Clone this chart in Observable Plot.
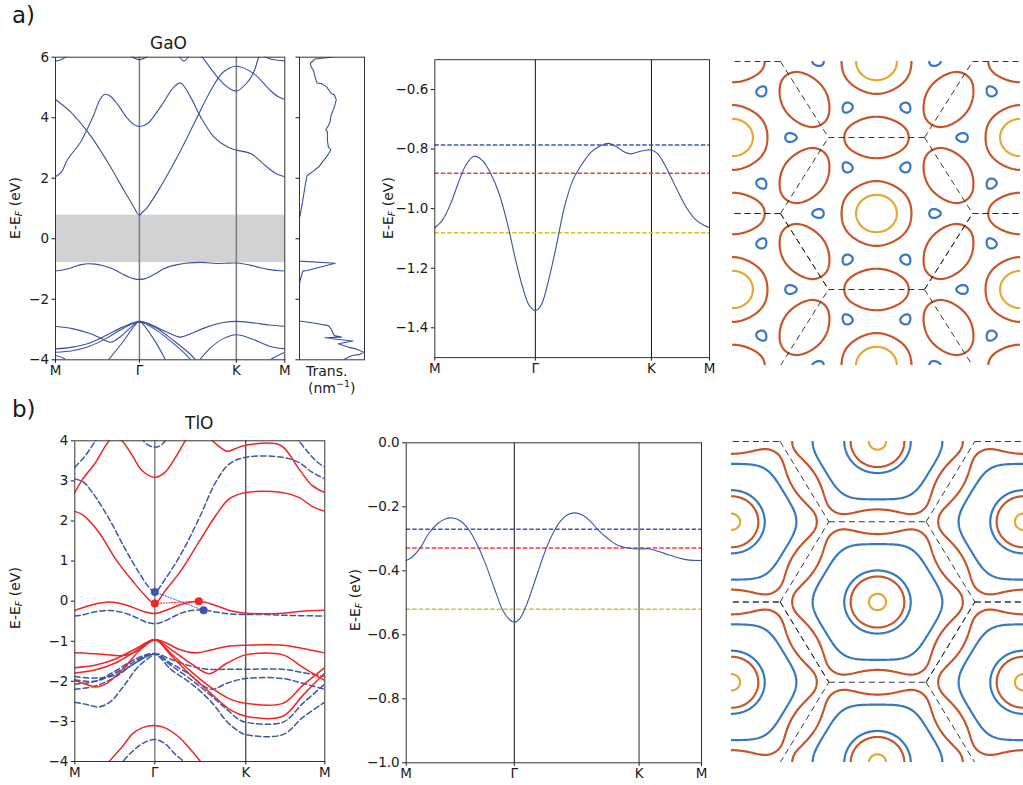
<!DOCTYPE html>
<html>
<head>
<meta charset="utf-8">
<script src="https://cdn.jsdelivr.net/npm/d3@7"></script>
<script src="https://cdn.jsdelivr.net/npm/@observablehq/plot@0.6"></script>
<style>
  body { margin: 0; background: #fff; }
  #fig { position: relative; width: 1023px; height: 785px; overflow: hidden; font-family: "DejaVu Sans", sans-serif; color: #1a1a1a; }
  #fig .panel { position: absolute; }
  #fig .txt { position: absolute; white-space: nowrap; font-family: "DejaVu Sans", sans-serif; color: #1a1a1a; }
  #fig .ylab { position: absolute; white-space: nowrap; font-size: 14px; transform: translate(-50%, -50%) rotate(-90deg); }
  #fig .ylab sub { font-size: 9.5px; font-style: italic; vertical-align: -2px; }
</style>
</head>
<body>
<div id="fig"></div>
<script>
const SQ3 = Math.sqrt(3);

// ---- k-path: positions in units of |ΓM| ----
const pathLabels = ["M", "Γ", "K", "M"];
const hexTicks = [0, 1, 1 + 2 / SQ3, 1 + 3 / SQ3];   // M Γ K M (hexagonal path lengths)
const tloTicks = [0, 1, 2.1375, 3.125];               // path used in the TlO band plot

// ---- GaO bands [k, E-EF] ----
const gaoTopValence = [[0,-1.064],[0.073,-1.040],[0.157,-0.984],[0.23,-0.917],[0.307,-0.855],[0.39,-0.824],[0.473,-0.838],[0.557,-0.883],[0.64,-0.950],[0.723,-1.051],[0.79,-1.152],[0.873,-1.263],[0.94,-1.325],[1.0,-1.342],[1.056,-1.325],[1.123,-1.252],[1.206,-1.129],[1.289,-0.995],[1.372,-0.905],[1.455,-0.855],[1.554,-0.810],[1.654,-0.788],[1.727,-0.781],[1.803,-0.791],[1.886,-0.810],[1.952,-0.816],[2.035,-0.808],[2.118,-0.803],[2.1547,-0.803],[2.217,-0.816],[2.283,-0.850],[2.348,-0.894],[2.430,-0.950],[2.512,-1.001],[2.594,-1.037],[2.676,-1.056],[2.7321,-1.064]];
const gaoA = [[0,4.6],[0.18,4.19],[0.37,3.58],[0.457,3.25],[0.656,2.37],[0.815,1.60],[0.934,1.04],[0.97,0.86],[1,0.78],[1.03,0.86],[1.094,1.04],[1.25,1.71],[1.45,2.70],[1.65,3.80],[1.85,4.90],[2.0,5.51],[2.1547,5.70],[2.365,5.45],[2.56,4.90],[2.65,4.7],[2.7321,4.6]];
const gaoB = [[0,2.05],[0.07,2.2],[0.14,2.6],[0.3,3.2],[0.37,3.58],[0.457,4.1],[0.53,4.6],[0.584,4.77],[0.65,4.72],[0.75,4.4],[0.85,4.0],[0.93,3.78],[1,3.71],[1.094,3.80],[1.25,4.35],[1.41,5.01],[1.49,5.15],[1.61,4.68],[1.73,4.02],[1.89,3.36],[2.05,3.03],[2.1547,2.93],[2.33,2.81],[2.52,2.37],[2.63,2.15],[2.7321,2.05]];
const gaoC = [[1.72,6.1],[1.75,6.0],[1.93,5.34],[2.05,5.01],[2.1547,4.88],[2.29,5.18],[2.37,5.56],[2.42,6.0],[2.44,6.1]];
const gaoD1 = [[0,5.87],[0.08,5.93],[0.15,6.08]];
const gaoD2 = [[2.46,6.08],[2.55,5.95],[2.65,5.9],[2.7321,5.88]];
const gaoE1 = [[0.88,6.1],[0.93,5.98],[1,5.92],[1.07,5.98],[1.12,6.1]];
const gaoE2 = [[1.46,6.1],[1.53,5.87],[1.6,6.1]];
const gaoL1 = [[0,-2.89],[0.2,-2.97],[0.4,-3.12],[0.55,-3.3],[0.66,-3.42],[0.78,-3.22],[0.9,-2.92],[1,-2.73],[1.15,-2.85],[1.3,-3.05],[1.49,-3.25],[1.6,-3.15],[1.8,-2.92],[2.0,-2.77],[2.1547,-2.73],[2.35,-2.78],[2.55,-2.85],[2.7321,-2.89]];
const gaoL2 = [[0,-3.64],[0.2,-3.58],[0.4,-3.45],[0.6,-3.2],[0.8,-2.92],[1,-2.74],[1.2,-2.95],[1.4,-3.35],[1.6,-3.8],[1.7,-4.1]];
const gaoL3 = [[0,-3.75],[0.2,-3.7],[0.4,-3.56],[0.6,-3.3],[0.8,-2.97],[1,-2.75],[1.2,-3.02],[1.4,-3.45],[1.58,-3.9],[1.64,-4.1]];
const gaoL4 = [[0.6,-4.1],[0.8,-3.42],[0.92,-2.95],[1,-2.73],[1.08,-2.95],[1.2,-3.45],[1.33,-4.1]];
const gaoL5 = [[1.69,-4.1],[1.85,-3.6],[2.0,-3.3],[2.1547,-3.17],[2.35,-3.32],[2.55,-3.55],[2.7321,-3.64]];
const gaoL6 = [[2.5,-4.1],[2.62,-3.9],[2.7321,-3.75]];
const gaoL7 = [[0,-3.86],[0.1,-3.95],[0.16,-4.1]];
const gaoGap = [-0.79, 0.78];

// transmission [E-EF, T (relative)]
const gaoTrans = [[6.0,0.495],[5.94,0.24],[5.80,0.167],[5.67,0.18],[5.56,0.217],[5.34,0.24],[5.15,0.268],[5.12,0.343],[5.01,0.42],[4.81,0.485],[4.76,0.535],[4.59,0.566],[4.35,0.535],[4.18,0.505],[4.07,0.485],[3.85,0.47],[3.74,0.444],[3.60,0.404],[3.54,0.429],[3.25,0.429],[3.03,0.444],[2.94,0.485],[2.72,0.42],[2.37,0.293],[2.20,0.192],[2.09,0.116],[1.81,0.091],[1.26,0.05],[0.77,0.01],[0.72,0],[-0.74,0],[-0.81,0.55],[-1.05,0.116],[-1.07,0.05],[-1.38,0.01],[-1.49,0],[-2.72,0],[-2.79,0.24],[-2.87,0.444],[-2.98,0.485],[-3.2,0.535],[-3.25,0.646],[-3.27,0.394],[-3.32,0.57],[-3.38,0.823],[-3.47,0.596],[-3.58,0.747],[-3.64,0.87],[-3.75,0.99],[-3.82,0.93],[-3.86,0.808],[-4.0,0.672]];

// constant-energy levels for GaO (eV)
const gaoLevels = [-0.786, -0.881, -1.081];

// ---- TlO bands [k, E-EF] ----
const tloTopValence = [[0,-0.368],[0.056,-0.357],[0.134,-0.326],[0.211,-0.282],[0.289,-0.253],[0.366,-0.2375],[0.429,-0.235],[0.506,-0.245],[0.584,-0.274],[0.661,-0.321],[0.739,-0.383],[0.817,-0.456],[0.894,-0.524],[0.957,-0.553],[1,-0.561],[1.049,-0.55],[1.111,-0.508],[1.188,-0.435],[1.266,-0.357],[1.343,-0.293],[1.420,-0.248],[1.497,-0.224],[1.559,-0.219],[1.621,-0.224],[1.698,-0.243],[1.775,-0.272],[1.867,-0.300],[1.960,-0.321],[2.053,-0.329],[2.1547,-0.332],[2.237,-0.331],[2.328,-0.339],[2.419,-0.349],[2.510,-0.359],[2.602,-0.366],[2.7321,-0.368]];
const tloLevels = [-0.270, -0.329, -0.520];

// spin-up (solid red)
const tloUp1 = [[0,2.24],[0.1,2.15],[0.3,1.72],[0.51,1.05],[0.72,0.51],[0.88,0.14],[1,-0.06],[1.13,0.26],[1.34,0.80],[1.55,1.47],[1.76,2.13],[1.93,2.55],[2.1375,2.71],[2.59,2.71],[2.80,2.59],[2.97,2.36],[3.125,2.24]];
const tloUp2 = [[0,2.71],[0.1,3.05],[0.26,3.46],[0.36,3.80],[0.43,4.0],[0.51,4.12],[0.59,4.0],[0.72,3.63],[0.84,3.26],[1,3.09],[1.13,3.22],[1.26,3.59],[1.38,4.0],[1.45,4.2]];
const tloUp3 = [[1.62,4.2],[1.72,4.0],[1.905,3.74],[2.0,3.8],[2.1375,3.89],[2.57,3.89],[2.80,3.30],[2.97,2.88],[3.125,2.71]];
const tloUp4 = [[0,-0.23],[0.2,-0.1],[0.43,-0.02],[0.65,-0.1],[0.85,-0.25],[1,-0.31],[1.15,-0.22],[1.35,-0.07],[1.55,0.0],[1.75,-0.1],[1.95,-0.24],[2.1375,-0.30],[2.6,-0.30],[2.85,-0.25],[3.125,-0.23]];
const tloUp5 = [[0,-1.29],[0.3,-1.32],[0.55,-1.36],[0.7,-1.32],[0.85,-1.15],[1,-0.96],[1.15,-1.05],[1.3,-1.2],[1.51,-1.29],[1.7,-1.22],[1.9,-1.13],[2.1375,-1.10],[2.6,-1.10],[2.85,-1.18],[3.125,-1.29]];
const tloUp6 = [[0,-1.66],[0.25,-1.6],[0.5,-1.45],[0.75,-1.2],[1,-0.96],[1.2,-1.2],[1.45,-1.55],[1.68,-1.81],[1.9,-1.55],[2.1375,-1.34],[2.6,-1.34],[2.85,-1.65],[3.125,-1.98]];
const tloUp7 = [[0,-1.79],[0.25,-1.72],[0.5,-1.55],[0.75,-1.26],[1,-0.96],[1.2,-1.3],[1.45,-1.75],[1.7,-2.15],[1.95,-2.45],[2.1375,-2.55],[2.6,-2.55],[2.85,-2.1],[3.125,-1.66]];
const tloUp8 = [[0,-1.98],[0.15,-2.08],[0.26,-2.14],[0.4,-2.05],[0.6,-1.7],[0.8,-1.25],[1,-0.96],[1.2,-1.35],[1.45,-1.85],[1.7,-2.3],[1.95,-2.72],[2.1375,-2.87],[2.6,-2.87],[2.85,-2.35],[3.125,-1.79]];
const tloUp9 = [[0.38,-4.15],[0.43,-4.0],[0.59,-3.64],[0.72,-3.31],[0.84,-3.16],[1,-3.10],[1.13,-3.16],[1.3,-3.39],[1.42,-3.64],[1.57,-4.0],[1.62,-4.15]];

// spin-down (dashed blue)
const tloDn1 = [[0,3.05],[0.1,2.98],[0.22,2.71],[0.43,2.05],[0.63,1.30],[0.80,0.72],[0.93,0.34],[1,0.23],[1.13,0.55],[1.34,1.22],[1.55,2.05],[1.76,2.96],[1.93,3.42],[2.1375,3.59],[2.59,3.59],[2.80,3.46],[2.97,3.21],[3.125,3.05]];
const tloDn2a = [[0,3.34],[0.1,3.55],[0.2,3.82],[0.26,4.0],[0.3,4.12]];
const tloDn2b = [[0.84,4.1],[0.86,4.0],[0.93,3.88],[1,3.84],[1.07,3.88],[1.13,4.0],[1.15,4.1]];
const tloDn2c = [[2.75,4.12],[2.8,4.0],[2.9,3.75],[2.97,3.59],[3.05,3.44],[3.125,3.34]];
const tloDn5 = [[0,-1.88],[0.25,-1.92],[0.5,-1.85],[0.75,-1.55],[1,-1.31],[1.2,-1.45],[1.45,-1.62],[1.68,-1.7],[1.9,-1.7],[2.1375,-1.70],[2.6,-1.70],[2.85,-1.78],[3.125,-1.88]];
const tloDn6 = [[0,-1.96],[0.25,-2.0],[0.5,-1.8],[0.75,-1.5],[1,-1.31],[1.2,-1.55],[1.45,-1.85],[1.6,-2.1],[1.72,-2.2],[1.9,-2.05],[2.1375,-1.93],[2.6,-1.93],[2.85,-2.05],[3.125,-2.2]];
const tloDn7 = [[0,-2.07],[0.25,-2.0],[0.5,-1.75],[0.75,-1.45],[1,-1.31],[1.2,-1.6],[1.45,-1.95],[1.7,-2.35],[1.9,-2.7],[2.05,-2.95],[2.1375,-3.02],[2.6,-3.02],[2.85,-2.55],[3.125,-2.07]];
const tloDn8 = [[0,-2.2],[0.25,-2.12],[0.5,-1.9],[0.75,-1.55],[1,-1.33],[1.2,-1.7],[1.45,-2.05],[1.7,-2.5],[1.9,-3.0],[2.05,-3.25],[2.1375,-3.33],[2.6,-3.33],[2.85,-2.9],[3.125,-2.52]];
const tloDn4 = [[0,-2.52],[0.15,-2.58],[0.3,-2.64],[0.45,-2.5],[0.6,-2.15],[0.8,-1.62],[1,-1.31]];
const tloDn9 = [[0.55,-4.15],[0.6,-4.0],[0.72,-3.75],[0.84,-3.56],[1,-3.45],[1.13,-3.56],[1.25,-3.81],[1.36,-4.0],[1.42,-4.15]];

// band edges marked in the TlO plot
const tloUpEdges = [[1, -0.06], [1.55, 0.0]];
const tloDnEdges = [[1, 0.23], [1.61, -0.23]];

// ---- colours ----
const cBandGaO = "#3b4fa6", cUp = "#ee2626", cDn = "#3d56ad";
const levelColors = ["#3d55c0", "#f53a3a", "#c9c634"];       // dashed lines in the zoomed bands
const contourColors = ["#3877c2", "#c6552b", "#e2aa33"];      // matching constant-energy contours

// ---- helpers ----
const rows = (bands) => bands.flatMap((pts, i) => pts.map(([k, E]) => ({k, E, band: i})));
const tickName = (ticks) => (d) => pathLabels[ticks.findIndex((t) => Math.abs(t - d) < 1e-6)] ?? "";
const baseStyle = {background: "transparent", fontFamily: "DejaVu Sans, sans-serif", fontSize: "13.5px", color: "#1a1a1a", overflow: "visible"};
const fig = document.getElementById("fig");
function place(node, left, top) {
  const d = document.createElement("div");
  d.className = "panel"; d.style.left = left + "px"; d.style.top = top + "px";
  d.appendChild(node); fig.appendChild(d);
}
function text(html, left, top, size, extra = "") {
  const d = document.createElement("div");
  d.className = "txt"; d.style.left = left + "px"; d.style.top = top + "px"; d.style.fontSize = size + "px";
  d.style.cssText += extra; d.innerHTML = html; fig.appendChild(d);
}
function ylab(cx, cy) {
  const d = document.createElement("div");
  d.className = "ylab"; d.style.left = cx + "px"; d.style.top = cy + "px";
  d.innerHTML = "E-E<sub>F</sub> (eV)"; fig.appendChild(d);
}

// ---- Brillouin-zone geometry (reciprocal lattice of a triangular lattice, a = 1) ----
const Kpt = [4 * Math.PI / 3, 0], Mpt = [0, 2 * Math.PI / SQ3], Mnext = [Math.PI, Math.PI / SQ3];
function pathPoint(s) {
  const gk = 2 / SQ3, km = 1 / SQ3;
  if (s <= 1) return [Mpt[0] * (1 - s), Mpt[1] * (1 - s)];
  if (s <= 1 + gk) { const t = (s - 1) / gk; return [Kpt[0] * t, Kpt[1] * t]; }
  const t = Math.min(1, (s - 1 - gk) / km);
  return [Kpt[0] + (Mnext[0] - Kpt[0]) * t, Kpt[1] + (Mnext[1] - Kpt[1]) * t];
}
function latticeShells(n) {
  const byR2 = new Map();
  for (let i = -8; i <= 8; i++) for (let j = -8; j <= 8; j++) {
    if (!i && !j) continue;
    const x = i + j / 2, y = j * SQ3 / 2, r2 = Math.round((x * x + y * y) * 1e6) / 1e6;
    if (!byR2.has(r2)) byR2.set(r2, []);
    byR2.get(r2).push([x, y]);
  }
  return [...byR2.keys()].sort((a, b) => a - b).slice(0, n).map((k) => byR2.get(k));
}
function solve(A, b) {
  const n = b.length, M = A.map((r, i) => [...r, b[i]]);
  for (let c = 0; c < n; c++) {
    let p = c;
    for (let r = c + 1; r < n; r++) if (Math.abs(M[r][c]) > Math.abs(M[p][c])) p = r;
    [M[c], M[p]] = [M[p], M[c]];
    for (let r = 0; r < n; r++) {
      if (r === c) continue;
      const f = M[r][c] / M[c][c];
      for (let k = c; k <= n; k++) M[r][k] -= f * M[c][k];
    }
  }
  return M.map((r, i) => r[n] / r[i]);
}
// Fourier (star-function) fit of a band over the 2D zone, from its values along M–Γ–K–M
function fitBand(points, nShells, ridge) {
  const shells = latticeShells(nShells);
  const basis = (kx, ky) => [1, ...shells.map((sh) => { let s = 0; for (const [rx, ry] of sh) s += Math.cos(kx * rx + ky * ry); return s; })];
  const n = nShells + 1, A = Array.from({length: n}, () => new Array(n).fill(0)), b = new Array(n).fill(0);
  for (const [s, E] of points) {
    const [kx, ky] = pathPoint(s), f = basis(kx, ky);
    for (let i = 0; i < n; i++) { b[i] += f[i] * E; for (let j = 0; j < n; j++) A[i][j] += f[i] * f[j]; }
  }
  for (let i = 1; i < n; i++) A[i][i] += ridge;
  const c = solve(A, b);
  return (kx, ky) => { const f = basis(kx, ky); let e = 0; for (let i = 0; i < n; i++) e += c[i] * f[i]; return e; };
}
// zone boundaries (dashed) around reciprocal-lattice points
function zoneEdges(extX, extY) {
  const b1 = [2 * Math.PI, -2 * Math.PI / SQ3], b2 = [0, 4 * Math.PI / SQ3], r = 4 * Math.PI / 3;
  const seen = new Map();
  for (let m = -4; m <= 4; m++) for (let n = -4; n <= 4; n++) {
    const gx = m * b1[0] + n * b2[0], gy = m * b1[1] + n * b2[1];
    if (Math.abs(gx) > extX + 5 || Math.abs(gy) > extY + 5) continue;
    const v = d3.range(7).map((j) => [gx + r * Math.cos(j * Math.PI / 3), gy + r * Math.sin(j * Math.PI / 3)]);
    for (let j = 0; j < 6; j++) {
      const [p, q] = [v[j], v[j + 1]].sort((a, b) => a[0] - b[0] || a[1] - b[1]);
      const key = p.concat(q).map((x) => x.toFixed(3)).join(",");
      if (!seen.has(key)) seen.set(key, {x1: p[0], y1: p[1], x2: q[0], y2: q[1]});
    }
  }
  return [...seen.values()];
}
function contourMap(surface, levels, width, height) {
  const ext = [2 * Math.PI, 4 * Math.PI / SQ3], pad = 0.7;
  return Plot.plot({
    width, height, margin: 0, style: {...baseStyle, overflow: "hidden"},
    x: {domain: [-ext[0], ext[0]], axis: null},
    y: {domain: [-ext[1], ext[1]], axis: null},
    marks: [
      ...levels.map((lv, i) => Plot.contour({value: surface, x1: -ext[0] - pad, x2: ext[0] + pad, y1: -ext[1] - pad, y2: ext[1] + pad,
        thresholds: [lv], fill: "none", stroke: contourColors[i], strokeWidth: 2.2, pixelSize: 1, clip: true})),
      Plot.link(zoneEdges(ext[0], ext[1]), {x1: "x1", y1: "y1", x2: "x2", y2: "y2", stroke: "#222", strokeWidth: 0.9, strokeDasharray: "6,4", clip: true})
    ]
  });
}

const fmt1 = d3.format(".1f"), fmt0 = d3.format("d");

// ===================== a) GaO =====================
place(Plot.plot({
  width: 300, height: 400, marginLeft: 55, marginRight: 15.7, marginTop: 56.7, marginBottom: 40.7,
  style: baseStyle,
  x: {domain: [0, hexTicks[3]], ticks: hexTicks, tickFormat: tickName(hexTicks), tickSize: 3.5, tickPadding: 2, label: null},
  y: {domain: [-4, 6], ticks: [-4, -2, 0, 2, 4, 6], tickFormat: fmt0, tickSize: 3.5, tickPadding: 3, label: null},
  marks: [
    Plot.rect([gaoGap], {x1: () => hexTicks[0], x2: () => hexTicks[3], y1: (d) => d[0], y2: (d) => d[1], fill: "#d1d2d4"}),
    Plot.ruleX([hexTicks[1], hexTicks[2]], {stroke: "#7d7d7d", strokeWidth: 1.5}),
    Plot.line(rows([gaoA, gaoB, gaoC, gaoD1, gaoD2, gaoE1, gaoE2, gaoTopValence, gaoL1, gaoL2, gaoL3, gaoL4, gaoL5, gaoL6, gaoL7]),
      {x: "k", y: "E", z: "band", stroke: cBandGaO, strokeWidth: 1.1, curve: "catmull-rom", clip: true}),
    Plot.frame({stroke: "#333"})
  ]
}), 0, 0);

// transmission
place(Plot.plot({
  width: 80, height: 400, marginLeft: 4, marginRight: 11, marginTop: 56.7, marginBottom: 40.7,
  style: baseStyle,
  x: {domain: [0, 1], axis: null},
  y: {domain: [-4, 6], ticks: [-4, -2, 0, 2, 4, 6], tickFormat: () => "", tickSize: 3.5, label: null},
  marks: [
    Plot.line(gaoTrans, {x: (d) => d[1], y: (d) => d[0], stroke: cBandGaO, strokeWidth: 1.1, clip: true}),
    Plot.frame({stroke: "#333"})
  ]
}), 295, 0);

// zoomed top valence band of GaO
place(Plot.plot({
  width: 354, height: 352, marginLeft: 64.3, marginRight: 15, marginTop: 19.2, marginBottom: 34.9,
  style: baseStyle,
  x: {domain: [0, hexTicks[3]], ticks: hexTicks, tickFormat: tickName(hexTicks), tickSize: 3.5, tickPadding: 2, label: null},
  y: {domain: [-1.5, -0.5], ticks: [-1.4, -1.2, -1.0, -0.8, -0.6], tickFormat: fmt1, tickSize: 3.5, tickPadding: 3, label: null},
  marks: [
    Plot.ruleX([hexTicks[1], hexTicks[2]], {stroke: "#111", strokeWidth: 1}),
    Plot.ruleY(gaoLevels, {stroke: (d, i) => levelColors[i], strokeWidth: 1.5, strokeDasharray: "4.5,2"}),
    Plot.line(gaoTopValence, {x: (d) => d[0], y: (d) => d[1], stroke: cBandGaO, strokeWidth: 1.1, curve: "catmull-rom"}),
    Plot.frame({stroke: "#333"})
  ]
}), 370, 40);

// constant-energy contours of the GaO top valence band
place(contourMap(fitBand(gaoTopValence, 7, 1e-3), gaoLevels, 288, 304), 732, 61);

// ===================== b) TlO =====================
const hexToTlo = d3.scaleLinear().domain(hexTicks).range(tloTicks);
const tloDnTop = tloTopValence.map(([k, E]) => [hexToTlo(k), E]);
place(Plot.plot({
  width: 340, height: 400, marginLeft: 74.3, marginRight: 15.7, marginTop: 40.3, marginBottom: 39,
  style: baseStyle,
  x: {domain: [0, tloTicks[3]], ticks: tloTicks, tickFormat: tickName(tloTicks), tickSize: 3.5, tickPadding: 2, label: null},
  y: {domain: [-4, 4], ticks: d3.range(-4, 5), tickFormat: fmt0, tickSize: 3.5, tickPadding: 3, label: null},
  marks: [
    Plot.ruleX([tloTicks[1]], {stroke: "#8a8a8a", strokeWidth: 1.6}),
    Plot.ruleX([tloTicks[2]], {stroke: "#111", strokeWidth: 1}),
    Plot.line(rows([tloDn1, tloDn2a, tloDn2b, tloDn2c, tloDnTop, tloDn4, tloDn5, tloDn6, tloDn7, tloDn8, tloDn9]),
      {x: "k", y: "E", z: "band", stroke: cDn, strokeWidth: 1.5, strokeDasharray: "5.5,3", curve: "catmull-rom", clip: true}),
    Plot.line(rows([tloUp1, tloUp2, tloUp3, tloUp4, tloUp5, tloUp6, tloUp7, tloUp8, tloUp9]),
      {x: "k", y: "E", z: "band", stroke: cUp, strokeWidth: 1.5, curve: "catmull-rom", clip: true}),
    Plot.line(tloDnEdges, {x: (d) => d[0], y: (d) => d[1], stroke: cDn, strokeWidth: 1, strokeDasharray: "1.2,1.6"}),
    Plot.line(tloUpEdges, {x: (d) => d[0], y: (d) => d[1], stroke: cUp, strokeWidth: 1, strokeDasharray: "1.2,1.6"}),
    Plot.dot(tloDnEdges, {x: (d) => d[0], y: (d) => d[1], r: 4, fill: cDn}),
    Plot.dot(tloUpEdges, {x: (d) => d[0], y: (d) => d[1], r: 4, fill: cUp}),
    Plot.frame({stroke: "#333"})
  ]
}), 0, 400);

// zoomed top valence band of TlO
place(Plot.plot({
  width: 381, height: 365, marginLeft: 65.7, marginRight: 20, marginTop: 22.3, marginBottom: 22.7,
  style: baseStyle,
  x: {domain: [0, hexTicks[3]], ticks: hexTicks, tickFormat: tickName(hexTicks), tickSize: 3.5, tickPadding: 2, label: null},
  y: {domain: [-1.0, 0.0], ticks: [-1.0, -0.8, -0.6, -0.4, -0.2, 0.0], tickFormat: fmt1, tickSize: 3.5, tickPadding: 3, label: null},
  marks: [
    Plot.ruleX([hexTicks[1]], {stroke: "#111", strokeWidth: 1}),
    Plot.ruleX([hexTicks[2]], {stroke: "#8a8a8a", strokeWidth: 1.8}),
    Plot.ruleY(tloLevels, {stroke: (d, i) => levelColors[i], strokeWidth: 1.5, strokeDasharray: "4.5,2"}),
    Plot.line(tloTopValence, {x: (d) => d[0], y: (d) => d[1], stroke: cDn, strokeWidth: 1.1, curve: "catmull-rom"}),
    Plot.frame({stroke: "#333"})
  ]
}), 340, 420);

// constant-energy contours of the TlO top valence band
place(contourMap(fitBand(tloTopValence, 6, 1e-3), tloLevels, 292, 321), 730.7, 441.4);

// ---- titles, axis labels, panel letters ----
text("a)", 12, 2, 23);
text("b)", 12, 396, 23);
text("GaO", 150, 33, 17);
text("TlO", 185, 413, 17);
text("Trans.", 306, 363, 14);
text("(nm<sup style='font-size:9.5px'>−1</sup>)", 308, 378, 14);
ylab(15, 208);
ylab(388, 208);
ylab(15, 598);
ylab(355, 600);
</script>
</body>
</html>
